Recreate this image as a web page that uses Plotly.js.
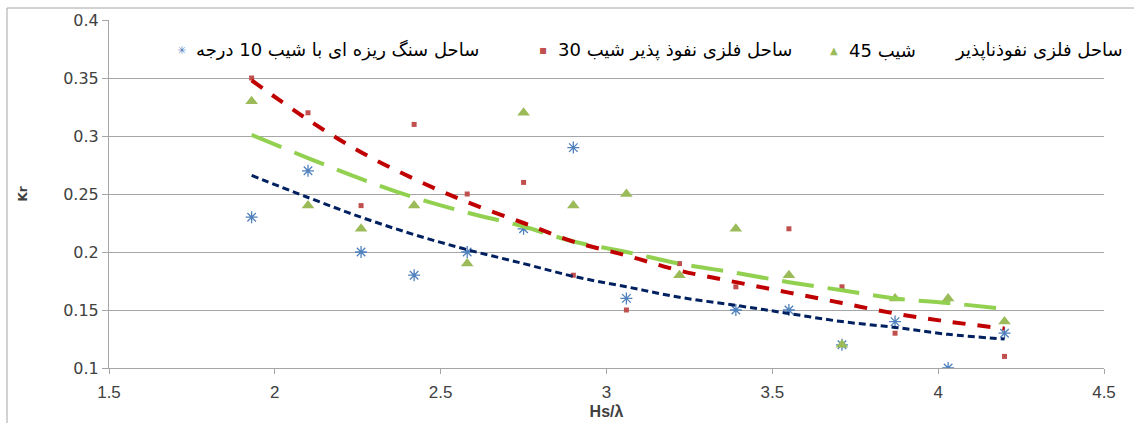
<!DOCTYPE html>
<html><head><meta charset="utf-8">
<script src="https://cdn.plot.ly/plotly-3.0.1.min.js"></script>
<style>html,body{margin:0;padding:0;background:#fff;} #chart{width:1134px;height:423px;}</style>
</head><body><div id="chart"></div>
<script>
// ---- data ----
const hsLambda = [1.93, 2.10, 2.26, 2.42, 2.58, 2.75, 2.90, 3.06, 3.22, 3.39, 3.55, 3.71, 3.87, 4.03, 4.20];
const krGravel10 = [0.23, 0.27, 0.20, 0.18, 0.20, 0.22, 0.29, 0.16, null, 0.15, 0.15, 0.12, 0.14, 0.10, 0.13];
const krPermeable30 = [0.35, 0.32, 0.24, 0.31, 0.25, 0.26, 0.18, 0.15, 0.19, 0.17, 0.22, 0.17, 0.13, null, 0.11];
const krImpermeable45 = [0.33, 0.24, 0.22, 0.24, 0.19, 0.32, 0.24, 0.25, 0.18, 0.22, 0.18, 0.12, 0.16, 0.16, 0.14];
// trend lines
const trendGravel10 = [0.266, 0.247, 0.230, 0.215, 0.202, 0.190, 0.179, 0.170, 0.161, 0.154, 0.147, 0.140, 0.135, 0.129, 0.125];
const trendPermeable30 = [0.348, 0.314, 0.286, 0.263, 0.243, 0.225, 0.209, 0.197, 0.184, 0.174, 0.165, 0.156, 0.147, 0.140, 0.134];
const trendImpermeable45 = [0.301, 0.281, 0.263, 0.247, 0.234, 0.222, 0.209, 0.200, 0.190, 0.182, 0.174, 0.167, 0.160, 0.156, 0.151];
const seriesNames = ["ساحل سنگ ریزه ای با شیب 10 درجه", "ساحل فلزی نفوذ پذیر شیب 30", "ساحل فلزی نفوذناپذیر شیب 45"];
const greenLabelParts = ["ساحل فلزی نفوذناپذیر", "شیب 45"];
const xTickVals = [1.5, 2, 2.5, 3, 3.5, 4, 4.5];
const xTickText = ["1.5", "2", "2.5", "3", "3.5", "4", "4.5"];
const yTickVals = [0.1, 0.15, 0.2, 0.25, 0.3, 0.35, 0.4];
const yTickText = ["0.1", "0.15", "0.2", "0.25", "0.3", "0.35", "0.4"];
const xTitle = "Hs/λ";
const yTitle = "Kr";

const cBlue = "#4F81BD", cRed = "#C0504D", cGreen = "#9BBB59";

const traces = [
  {x: hsLambda, y: krGravel10, name: seriesNames[0], type: "scatter", mode: "markers",
   marker: {symbol: "asterisk-open", size: 10, color: cBlue, line: {color: cBlue, width: 1.3}}},
  {x: hsLambda, y: krPermeable30, name: seriesNames[1], type: "scatter", mode: "markers",
   marker: {symbol: "square", size: 5, color: cRed}},
  {x: hsLambda, y: krImpermeable45, name: seriesNames[2], type: "scatter", mode: "markers",
   marker: {symbol: "triangle-up", size: 11, color: cGreen}},
  {x: hsLambda, y: trendImpermeable45, type: "scatter", mode: "lines", line: {color: "#92D050", width: 4, dash: "32px,14px", shape: "spline"}},
  {x: hsLambda, y: trendPermeable30, type: "scatter", mode: "lines", line: {color: "#C00000", width: 4, dash: "13px,12px", shape: "spline"}},
  {x: hsLambda, y: trendGravel10, type: "scatter", mode: "lines", line: {color: "#002060", width: 3, dash: "7px,4px", shape: "spline"}}
];

function px2paperX(p){ return (p - 109) / 995; }
function px2paperY(p){ return 1 - (p - 20) / 348; }
const legY = px2paperY(50);
const legFont = {family: "DejaVu Sans", size: 18, color: "#000"};

const layout = {
  width: 1134, height: 423,
  margin: {l: 109, r: 30, t: 20, b: 55},
  paper_bgcolor: "#fff", plot_bgcolor: "#fff",
  showlegend: false,
  xaxis: {range: [1.5, 4.5], tickvals: xTickVals, ticktext: xTickText, showgrid: false, zeroline: false,
    showline: true, linecolor: "#a6a6a6", linewidth: 1, ticks: "outside", ticklen: 5, tickcolor: "#a6a6a6",
    ticklabelstandoff: 4,
    tickfont: {family: "Liberation Sans Narrow, Liberation Sans", size: 17, color: "#404040"},
    title: {text: "<b>" + xTitle + "</b>", font: {family: "Liberation Sans Narrow, Liberation Sans", size: 16, color: "#404040"}, standoff: 4}},
  yaxis: {range: [0.1, 0.4], tickvals: yTickVals, ticktext: yTickText, showgrid: true, gridcolor: "#a6a6a6", gridwidth: 1, zeroline: false,
    showline: true, linecolor: "#a6a6a6", linewidth: 1, ticks: "outside", ticklen: 6, tickcolor: "#a6a6a6",
    tickfont: {family: "DejaVu Sans", size: 16, color: "#404040"},
    title: {text: "<b>" + yTitle + "</b>", font: {family: "DejaVu Sans", size: 12, color: "#404040"}, standoff: 32}},
  shapes: [
    {type: "line", xref: "paper", yref: "paper", x0: px2paperX(7), x1: px2paperX(7), y0: px2paperY(8), y1: px2paperY(430), line: {color: "#a6a6a6", width: 1}},
    {type: "line", xref: "paper", yref: "paper", x0: px2paperX(7), x1: px2paperX(1140), y0: px2paperY(8), y1: px2paperY(8), line: {color: "#a6a6a6", width: 1}}
  ],
  annotations: [
    {xref: "paper", yref: "paper", x: px2paperX(181), y: legY, xanchor: "center", yanchor: "middle", showarrow: false, text: "✳", font: {family: "DejaVu Sans", size: 11, color: cBlue}},
    {xref: "paper", yref: "paper", x: px2paperX(194), y: legY, xanchor: "left", yanchor: "middle", showarrow: false, text: seriesNames[0], font: legFont},
    {xref: "paper", yref: "paper", x: px2paperX(543), y: legY, xanchor: "center", yanchor: "middle", showarrow: false, text: "▪", font: {family: "DejaVu Sans", size: 12, color: cRed}},
    {xref: "paper", yref: "paper", x: px2paperX(556), y: legY, xanchor: "left", yanchor: "middle", showarrow: false, text: seriesNames[1], font: legFont},
    {xref: "paper", yref: "paper", x: px2paperX(834), y: legY, xanchor: "center", yanchor: "middle", showarrow: false, text: "▲", font: {family: "DejaVu Sans", size: 10, color: cGreen}},
    {xref: "paper", yref: "paper", x: px2paperX(847), y: legY, xanchor: "left", yanchor: "middle", showarrow: false, text: greenLabelParts[1], font: legFont},
    {xref: "paper", yref: "paper", x: px2paperX(1125), y: legY, xanchor: "right", yanchor: "middle", showarrow: false, text: greenLabelParts[0], font: legFont}
  ]
};

Plotly.newPlot("chart", traces, layout, {staticPlot: true, displayModeBar: false});
</script>
</body></html>
